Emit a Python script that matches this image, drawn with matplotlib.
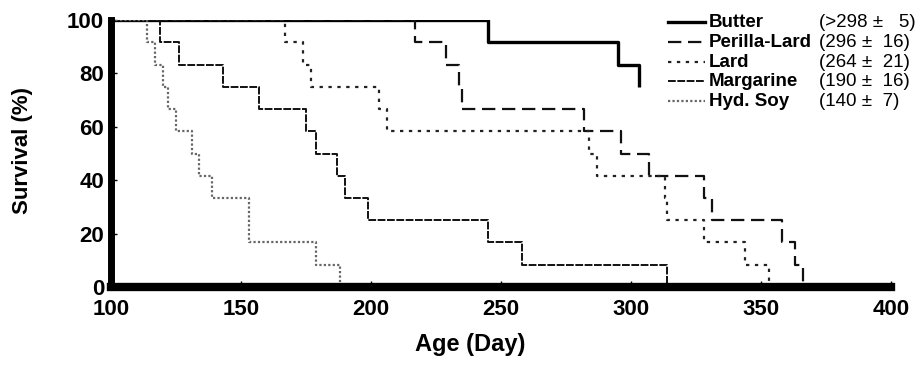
import matplotlib
matplotlib.use("Agg")
import matplotlib.pyplot as plt

plt.rcParams["font.family"] = ["Liberation Sans", "DejaVu Sans"]

# survival curves (age in days where each drop happens, survival in %)
butter_days = [100, 245, 295, 303]
butter_surv = [100, 91.7, 83.3, 75.0]

perilla_days = [100, 217, 229, 234, 235, 282, 296, 307, 328, 331, 358, 363, 366]
perilla_surv = [100, 91.7, 83.3, 75.0, 66.7, 58.3, 50.0, 41.7, 33.3, 25.0, 16.7, 8.3, 0]

lard_days = [100, 167, 174, 177, 203, 206, 284, 287, 313, 314, 328, 344, 353]
lard_surv = [100, 91.7, 83.3, 75.0, 66.7, 58.3, 50.0, 41.7, 33.3, 25.0, 16.7, 8.3, 0]

margarine_days = [100, 119, 126, 143, 157, 175, 179, 187, 190, 199, 245, 258, 314]
margarine_surv = [100, 91.7, 83.3, 75.0, 66.7, 58.3, 50.0, 41.7, 33.3, 25.0, 16.7, 8.3, 0]

soy_days = [100, 114, 117, 120, 122, 125, 131, 134, 139, 153, 179, 188]
soy_surv = [100, 91.7, 83.3, 75.0, 66.7, 58.3, 50.0, 41.7, 33.3, 16.7, 8.3, 0]

names = ["Butter", "Perilla-Lard", "Lard", "Margarine", "Hyd. Soy"]
means = ["(>298 \u00b1   5)", "(296 \u00b1  16)", "(264 \u00b1  21)", "(190 \u00b1  16)", "(140 \u00b1  7)"]

styles = [
    dict(color="black", lw=2.4, ls="-"),
    dict(color="#111111", lw=1.6, ls=(0, (6, 3))),
    dict(color="#222222", lw=1.6, ls=(0, (1.5, 2.5))),
    dict(color="#111111", lw=1.4, ls=(0, (4, 0.8))),
    dict(color="#666666", lw=1.6, ls=(0, (1, 1))),
]

fig = plt.figure(figsize=(9.2, 3.65), dpi=100)
ax = fig.add_axes([0.1207, 0.2137, 0.8478, 0.7315])

series = [(butter_days, butter_surv), (perilla_days, perilla_surv), (lard_days, lard_surv),
          (margarine_days, margarine_surv), (soy_days, soy_surv)]
for (d, s), st in zip(series, styles):
    ax.step(d, s, where="post", solid_capstyle="butt", dash_capstyle="butt", **st)

ax.set_xlim(100, 400)
ax.set_ylim(0, 100)
ax.set_xticks([100, 150, 200, 250, 300, 350, 400])
ax.set_yticks([0, 20, 40, 60, 80, 100])
for side in ["top", "right"]:
    ax.spines[side].set_visible(False)
ax.spines["left"].set_linewidth(5)
ax.spines["bottom"].set_linewidth(6)
ax.tick_params(direction="in", length=4, width=1, labelsize=16)
ax.tick_params(axis="x", pad=9)
ax.tick_params(axis="y", pad=5)
for lbl in ax.get_xticklabels() + ax.get_yticklabels():
    lbl.set_fontweight("bold")

ax.set_xlabel("Age (Day)", fontsize=17, fontweight="bold")
ax.xaxis.set_label_coords((470 - 111) / 780, -(345 - 287) / 267)
ax.xaxis.label.set_va("center")
ax.set_ylabel("Survival (%)", fontsize=16, fontweight="bold")
ax.yaxis.set_label_coords(-(111 - 22) / 780, (287 - 150) / 267)
ax.yaxis.label.set_va("center")

# legend drawn by hand, two text columns
row_y = [22, 42, 62, 81, 101]
for i, st in enumerate(styles):
    yy = (287 - row_y[i]) / 267
    ax.plot([(668 - 111) / 780, (705 - 111) / 780], [yy, yy], transform=ax.transAxes,
            clip_on=False, **st)
    ax.text((709 - 111) / 780, yy, names[i], transform=ax.transAxes, fontsize=13.5,
            fontweight="bold", va="center", ha="left")
    ax.text((819 - 111) / 780, yy, means[i], transform=ax.transAxes, fontsize=13.5,
            va="center", ha="left")

fig.savefig("out.png", dpi=100)
